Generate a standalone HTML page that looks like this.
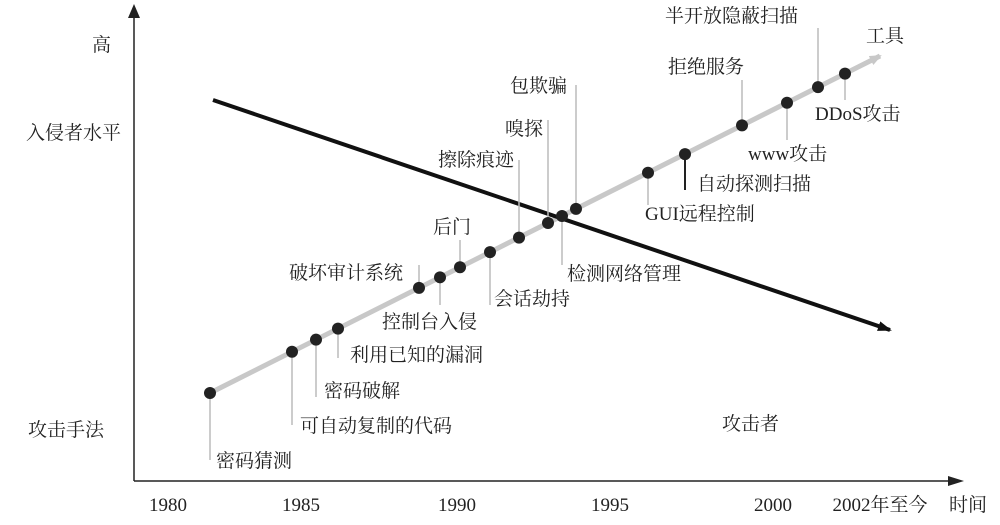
<!DOCTYPE html>
<html><head><meta charset="utf-8"><style>
html,body{margin:0;padding:0;background:#fff;}
svg text{font-family:"Liberation Serif","Noto Serif CJK SC","Noto Sans CJK SC",serif;font-size:19px;fill:#222;}
</style></head><body>
<svg id="chart" width="1000" height="520" viewBox="0 0 1000 520">
<defs>
<marker id="ag" markerWidth="12" markerHeight="10" refX="10" refY="5" orient="auto" markerUnits="userSpaceOnUse"><path d="M0,0 L12,5 L0,10 Z" fill="#c8c8c8"/></marker>
<marker id="ab" markerWidth="14" markerHeight="10" refX="12" refY="5" orient="auto" markerUnits="userSpaceOnUse"><path d="M0,0 L14,5 L0,10 Z" fill="#111"/></marker>
</defs>
<g>
<line x1="134" y1="481" x2="134" y2="12" stroke="#222" stroke-width="1.5"/>
<path d="M128,18 L134,4 L140,18 Z" fill="#222"/>
<line x1="134" y1="481" x2="955" y2="481" stroke="#222" stroke-width="1.5"/>
<path d="M948,476 L964,481 L948,486 Z" fill="#222"/>
</g>
<text x="92" y="51">高</text>
<text x="26" y="139">入侵者水平</text>
<text x="28" y="436">攻击手法</text>
<text x="722" y="430">攻击者</text>
<text x="866" y="42">工具</text>
<g id="xticks"></g>
<line x1="210" y1="393" x2="880" y2="56" stroke="#c8c8c8" stroke-width="5" marker-end="url(#ag)"/>
<line x1="213" y1="100" x2="890" y2="330" stroke="#111" stroke-width="4" marker-end="url(#ab)"/>
<g id="events"></g>
</svg>
<script>
const tickLabels=["1980","1985","1990","1995","2000","2002年至今","时间"];
const tickX=[168,301,457,610,773,880,968];
const eventNames=["密码猜测","可自动复制的代码","密码破解","利用已知的漏洞","破坏审计系统","控制台入侵","后门","会话劫持","擦除痕迹","嗅探","检测网络管理","包欺骗","GUI远程控制","自动探测扫描","拒绝服务","www攻击","半开放隐蔽扫描","DDoS攻击"];
const eventPos=[210,292,316,338,419,440,460,490,519,548,562,576,648,685,742,787,818,845];
const labelX=[216,300,324,350,289,382,433,494,438,505,567,510,645,697,668,748,665,815];
const labelY=[467,432,397,361,279,328,233,305,166,135,280,92,220,190,73,160,22,120];
const leaderEnd=[460,425,397,358,265,305,240,305,160,120,265,85,205,190,80,140,28,100];
const svgNS="http://www.w3.org/2000/svg";
function yOnLine(x){return 393+(x-210)*(56-393)/(880-210);}
const xt=document.getElementById('xticks');
tickLabels.forEach((t,i)=>{
 const el=document.createElementNS(svgNS,'text');
 el.setAttribute('x',tickX[i]);el.setAttribute('y',511);el.setAttribute('text-anchor','middle');
 el.textContent=t;
 
 
 xt.appendChild(el);
});
const ev=document.getElementById('events');
eventNames.forEach((n,i)=>{
 const x=eventPos[i],y=yOnLine(x);
 const l=document.createElementNS(svgNS,'line');
 l.setAttribute('x1',x);l.setAttribute('y1',y);l.setAttribute('x2',x);l.setAttribute('y2',leaderEnd[i]);
 l.setAttribute('stroke',n==="自动探测扫描"?'#222':'#bbb');l.setAttribute('stroke-width',n==="自动探测扫描"?2:1.5);
 
 
 ev.appendChild(l);
 const c=document.createElementNS(svgNS,'circle');
 c.setAttribute('cx',x);c.setAttribute('cy',y);c.setAttribute('r',6);c.setAttribute('fill','#222');
 
 
 ev.appendChild(c);
 const t=document.createElementNS(svgNS,'text');
 t.setAttribute('x',labelX[i]);t.setAttribute('y',labelY[i]);t.textContent=n;
 
 
 ev.appendChild(t);
});
</script>
</body></html>
